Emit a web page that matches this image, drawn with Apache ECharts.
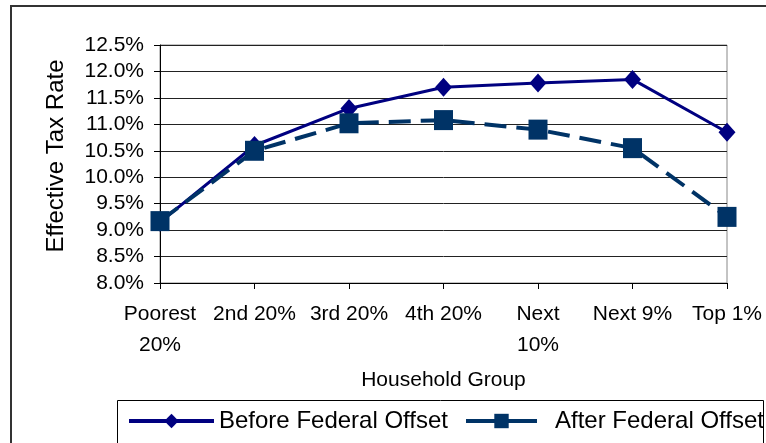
<!DOCTYPE html>
<html>
<head>
    <meta charset="utf-8">
    <title>Effective Tax Rate</title>
    <style>
        html, body { margin: 0; padding: 0; background: #fff; }
        #chart1 { width: 766px; height: 443px; }
    </style>
</head>
<body>
<div id="chart1"></div>
<script src="https://cdn.jsdelivr.net/npm/echarts@6/dist/echarts.min.js"></script>
<script type="text/javascript">
    // 数据
    var groups = ['Poorest\n20%', '2nd 20%', '3rd 20%', '4th 20%', 'Next\n10%', 'Next 9%', 'Top 1%'];
    var beforeOffset = [9.15, 10.6, 11.3, 11.7, 11.78, 11.85, 10.85];
    var afterOffset = [9.17, 10.5, 11.02, 11.08, 10.9, 10.55, 9.25];
    var seriesNames = ['Before Federal Offset', 'After Federal Offset'];

    var font = 'Liberation Sans, Arial, sans-serif';
    var myChart1 = echarts.init(document.getElementById('chart1'));

    var option = {
        animation: false,
        textStyle: { fontFamily: font, color: '#000' },
        grid: {
            left: 160, right: 39, top: 45, bottom: 160,
            show: true, borderColor: '#888', borderWidth: 1
        },
        // 外框和图例框
        graphic: [
            {
                type: 'rect', silent: true, z: 0,
                shape: { x: 11, y: 6, width: 800, height: 500 },
                style: { fill: 'none', stroke: '#333', lineWidth: 2 }
            },
            {
                type: 'rect', silent: true, z: 0,
                shape: { x: 117.5, y: 400.5, width: 646, height: 100 },
                style: { fill: 'none', stroke: '#000', lineWidth: 1 }
            }
        ],
        legend: [
            {
                left: 122, top: 404, itemWidth: 85, itemHeight: 18, itemGap: 0,
                data: [seriesNames[0]],
                lineStyle: { width: 4 },
                textStyle: { fontFamily: font, fontSize: 24, color: '#000' }
            },
            {
                left: 459, top: 404, itemWidth: 71, itemHeight: 18, itemGap: 0,
                data: [seriesNames[1]],
                lineStyle: { width: 4, type: 'solid' },
                textStyle: { fontFamily: font, fontSize: 24, color: '#000', padding: [0, 0, 0, 13] }
            }
        ],
        xAxis: {
            type: 'category',
            boundaryGap: false,
            data: groups,
            name: 'Household Group',
            nameLocation: 'middle',
            nameGap: 87,
            nameTextStyle: { fontFamily: font, fontSize: 21, color: '#000' },
            axisLine: { lineStyle: { color: '#000', width: 1 } },
            axisTick: { show: true, alignWithLabel: true, length: 6, lineStyle: { color: '#000' } },
            axisLabel: {
                interval: 0, fontSize: 21, color: '#000', margin: 16, lineHeight: 31,
                fontFamily: font
            },
            splitLine: { show: false }
        },
        yAxis: {
            type: 'value',
            min: 8, max: 12.5, interval: 0.5,
            name: 'Effective Tax Rate',
            nameLocation: 'middle',
            nameGap: 92,
            nameRotate: 90,
            nameTextStyle: { fontFamily: font, fontSize: 24, color: '#000', padding: [0, 0, 0, 16] },
            axisLine: { show: true, lineStyle: { color: '#000', width: 1 } },
            axisTick: { show: true, length: 6, lineStyle: { color: '#000' } },
            axisLabel: {
                fontSize: 21, color: '#000', margin: 16, fontFamily: font,
                formatter: function (v) { return v.toFixed(1) + '%'; }
            },
            splitLine: { show: true, lineStyle: { color: '#222', width: 1 } }
        },
        series: [
            {
                name: seriesNames[0],
                type: 'line',
                data: beforeOffset,
                symbol: 'diamond',
                symbolSize: [17, 19],
                itemStyle: { color: '#000080' },
                lineStyle: { color: '#000080', width: 3 },
                z: 3
            },
            {
                name: seriesNames[1],
                type: 'line',
                data: afterOffset,
                symbol: 'rect',
                symbolSize: [19, 20],
                itemStyle: { color: '#003366' },
                lineStyle: { color: '#003366', width: 4, type: [22, 10] },
                z: 4
            }
        ]
    };
    myChart1.setOption(option);
</script>
</body>
</html>
